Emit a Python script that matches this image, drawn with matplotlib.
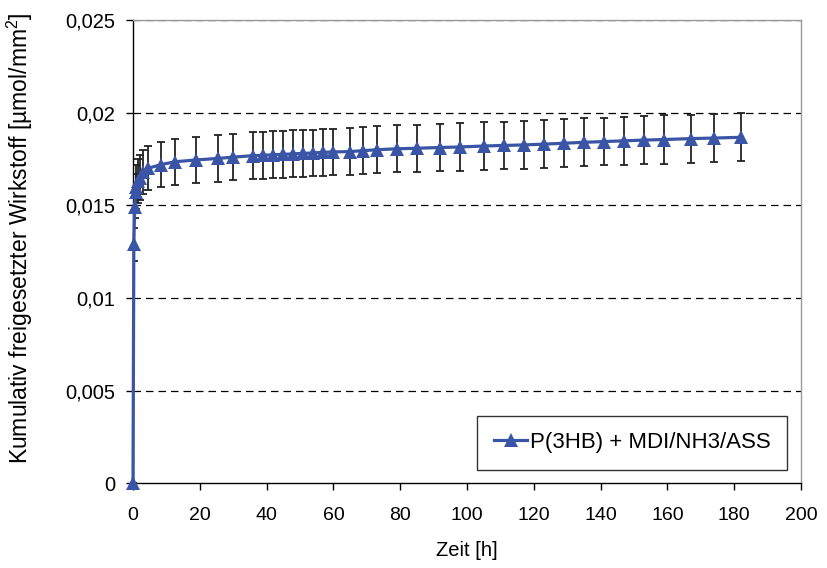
import matplotlib
matplotlib.use("Agg")
import matplotlib.pyplot as plt
from matplotlib.ticker import FixedLocator, FixedFormatter

plt.rcParams['font.family'] = ['Liberation Sans', 'DejaVu Sans']
plt.rcParams['mathtext.default'] = 'regular'

# data
zeit = [0, 0.25, 0.5, 0.75, 1, 1.5, 2, 3, 4.5, 8.5, 12.5, 19, 25.5, 30,
        36, 39, 42, 45, 48, 51, 54, 57, 60, 65, 69, 73, 79, 85, 92, 98,
        105, 111, 117, 123, 129, 135, 141, 147, 153, 159, 167, 174, 182]
wert = [0, 0.0129, 0.0149, 0.0157, 0.0160, 0.0163, 0.0165, 0.0168, 0.0170,
        0.0172, 0.01735, 0.01745, 0.01753, 0.0176, 0.01768, 0.0177, 0.01773,
        0.01775, 0.01778, 0.0178, 0.01783, 0.01786, 0.01788, 0.0179, 0.01795,
        0.018, 0.01805, 0.01808, 0.01812, 0.01815, 0.0182, 0.01823, 0.01826,
        0.0183, 0.01835, 0.0184, 0.01844, 0.01848, 0.01852, 0.01855, 0.0186,
        0.01863, 0.01867]
fehler = [0, 0.0009, 0.0006, 0.0010, 0.0012, 0.0012, 0.0012, 0.0012, 0.0012,
          0.00122, 0.00124, 0.00124, 0.00125, 0.00125, 0.00126, 0.00126,
          0.00126, 0.00126, 0.00126, 0.00126, 0.00126, 0.00126, 0.00126,
          0.00126, 0.00127, 0.00127, 0.00127, 0.00127, 0.00128, 0.00128,
          0.00128, 0.00128, 0.00128, 0.00128, 0.00129, 0.00129, 0.00129,
          0.00129, 0.0013, 0.0013, 0.0013, 0.0013, 0.0013]
serie = "P(3HB) + MDI/NH3/ASS"

y_ticks = [0, 0.005, 0.01, 0.015, 0.02, 0.025]
y_labels = ["0", "0,005", "0,01", "0,015", "0,02", "0,025"]
x_ticks = [0, 20, 40, 60, 80, 100, 120, 140, 160, 180, 200]

blau = "#3A55A6"

fig = plt.figure(figsize=(8.28, 5.68), dpi=100)
ax = fig.add_axes([133/828, 1-483.3/568, 668/828, 463.3/568])

ax.errorbar(zeit, wert, yerr=fehler, fmt='none', ecolor='#222222',
            elinewidth=1.3, capsize=3.2, capthick=1.3, zorder=2)
ax.plot(zeit, wert, color=blau, lw=2.3, marker='^', ms=9.5,
        markeredgewidth=0, label=serie, zorder=3, clip_on=False)

ax.set_xlim(0, 200)
ax.set_ylim(0, 0.025)
ax.xaxis.set_major_locator(FixedLocator(x_ticks))
ax.yaxis.set_major_locator(FixedLocator(y_ticks))
ax.yaxis.set_major_formatter(FixedFormatter(y_labels))

for y in y_ticks[1:]:
    ax.axhline(y, color='black', lw=0.9, ls=(0, (6, 4)), zorder=1)

for s in ['left', 'bottom']:
    ax.spines[s].set_color('black')
    ax.spines[s].set_linewidth(1.0)
for s in ['top', 'right']:
    ax.spines[s].set_color('#999999')
    ax.spines[s].set_linewidth(1.0)

ax.tick_params(axis='y', direction='out', length=5, width=1,
               labelsize=14.5, pad=8)
ax.tick_params(axis='x', direction='out', length=5, width=1,
               labelsize=14, pad=12)
ax.set_xlabel("Zeit [h]", fontsize=14.5, labelpad=12)
ax.set_ylabel("Kumulativ freigesetzter Wirkstoff [µmol/mm$^2$]",
              fontsize=16.5)
ax.yaxis.set_label_coords(-0.147, 0.53)

leg = ax.legend(loc='lower right', bbox_to_anchor=(0.979, 0.029),
                fontsize=16, fancybox=False, frameon=True,
                handlelength=1.5, handletextpad=0.1,
                borderpad=0.75, borderaxespad=0)
leg.get_frame().set_edgecolor('black')
leg.get_frame().set_linewidth(1.0)

fig.savefig("out.png", dpi=100)
